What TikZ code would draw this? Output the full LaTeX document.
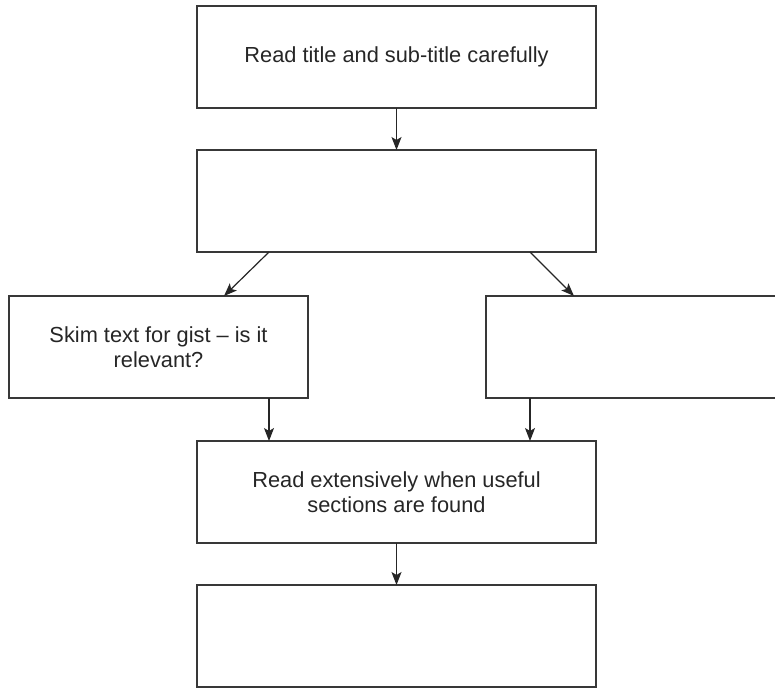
\documentclass[tikz,border=0pt]{standalone}
\usepackage{fontspec}
\setmainfont{Liberation Sans}
\usetikzlibrary{arrows.meta}
\tikzset{
  etape/.style={draw=black!78, line width=0.7pt, minimum width=199.5pt, minimum height=51pt,
    align=center, text=black!85, font=\fontsize{10.9}{12.5}\selectfont, inner sep=0pt, outer sep=0pt},
  etapecourte/.style={etape, minimum width=149.5pt},
  fleche/.style={-{Stealth[length=6.5pt,width=5pt,inset=1.5pt]}, draw=black!85, line width=0.6pt}
}
\begin{document}
\begin{tikzpicture}[x=0.5pt, y=-0.5pt]
			\useasboundingbox (0,0) rectangle (775,687);
			%Etapes
			\node[etape] (Titre) at (396.5,57) {Read title and sub-title carefully};
			\node[etape] (Vide1) at (396.5,201) {};
			\node[etapecourte] (Survol) at (158.5,347) {Skim text for gist -- is it\\relevant?};
			\node[etapecourte] (Vide2) at (635.5,347) {};
			\node[etape] (Lecture) at (396.5,492) {Read extensively when useful\\sections are found};
			\node[etape] (Vide3) at (396.5,636) {};
			%Fleches
			\draw[fleche] (Titre) -- (Vide1);
			\draw[fleche] ([xshift=36pt]Vide1.south west) -- ([xshift=-42pt]Survol.north east);
			\draw[fleche] ([xshift=-33pt]Vide1.south east) -- ([xshift=44pt]Vide2.north west);
			
			\draw[fleche] ([xshift=-19.5pt]Survol.south east) -- ([xshift=36pt]Lecture.north west);
			\draw[fleche] ([xshift=22pt]Vide2.south west) -- ([xshift=-33pt]Lecture.north east);
			\draw[fleche] (Lecture) -- (Vide3);
		\end{tikzpicture}
\end{document}
